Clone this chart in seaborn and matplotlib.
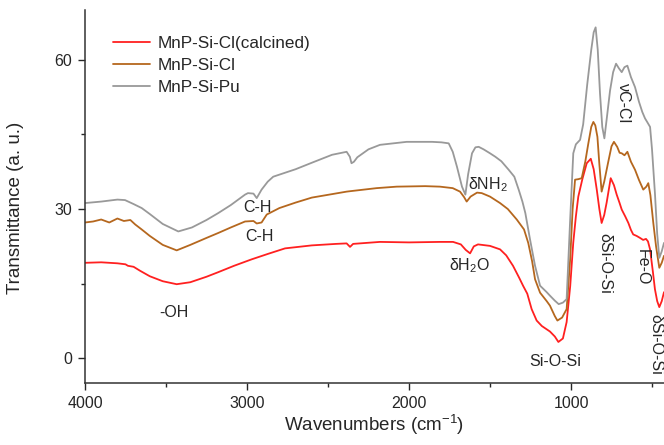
import matplotlib
matplotlib.use("Agg")
import matplotlib.pyplot as plt
from matplotlib.ticker import MultipleLocator, FixedLocator
import seaborn as sns
import pandas as pd

# ------------------------- Data -------------------------
wn_calcined = [4000, 3900, 3800, 3750, 3735, 3700, 3660, 3600, 3520, 3434, 3350, 3250, 3179, 3080,
               2971, 2870, 2765, 2600, 2450, 2385, 2364, 2345, 2179, 2000, 1809, 1728, 1680, 1650,
               1623, 1600, 1574, 1500, 1438, 1400, 1358, 1320, 1296, 1270, 1243, 1212, 1180, 1130,
               1100, 1078, 1050, 1027, 1005, 986, 970, 955, 930, 903, 878, 860, 841, 825, 811, 795,
               780, 755, 735, 718, 700, 687, 665, 646, 630, 616, 595, 574, 555, 537, 525, 512, 495,
               482, 468, 455, 440, 426]
tr_calcined = [19.2, 19.3, 19.1, 18.9, 18.6, 18.4, 17.6, 16.5, 15.5, 14.9, 15.3, 16.4, 17.3, 18.6,
               19.9, 21.0, 22.1, 22.7, 23.0, 23.1, 22.4, 23.0, 23.4, 23.3, 23.4, 23.4, 22.9, 21.8,
               21.1, 22.5, 22.9, 22.6, 21.9, 20.7, 18.6, 16.2, 14.6, 13.0, 9.9, 7.6, 6.5, 5.4,
               4.4, 3.3, 4.0, 7.3, 14.5, 23.3, 28.5, 32.5, 36.0, 39.2, 40.1, 38.0, 33.9, 30.0, 27.2, 28.8,
               31.3, 36.2, 34.8, 32.9, 31.2, 29.9, 28.5, 27.2, 25.8, 24.9, 24.6, 24.2, 23.8, 24.0, 23.5, 21.9, 17.5,
               13.9, 11.5, 10.3, 11.5, 13.3]

wn_cl = [4000, 3950, 3900, 3850, 3800, 3760, 3720, 3690, 3650, 3600, 3520, 3434, 3350, 3250, 3177,
         3100, 3012, 2960, 2940, 2910, 2878, 2800, 2700, 2600, 2385, 2360, 2200, 2076, 1900, 1809,
         1730, 1685, 1660, 1644, 1620, 1580, 1551, 1500, 1438, 1390, 1335, 1290, 1264, 1240, 1222,
         1191, 1150, 1130, 1100, 1084, 1055, 1027, 1005, 990, 975, 955, 934, 912, 893, 875, 862,
         850, 837, 825, 811, 795, 770, 750, 735, 715, 700, 687, 670, 652, 630, 605, 580, 554, 535,
         523, 510, 492, 475, 455, 440, 426]
tr_cl = [27.3, 27.5, 27.9, 27.3, 28.1, 27.6, 27.8, 26.9, 25.9, 24.6, 22.8, 21.7, 22.8, 24.2, 25.2,
         26.3, 27.5, 27.6, 27.1, 27.3, 28.9, 30.2, 31.3, 32.3, 33.5, 33.6, 34.2, 34.5, 34.6, 34.5,
         34.2, 33.5, 32.4, 31.5, 32.5, 33.3, 33.2, 32.5, 31.2, 30.0, 27.9, 25.9, 23.2, 19.5, 15.9,
         13.2, 11.5, 10.6, 8.5, 7.6, 8.2, 9.9, 20.0, 30.0, 35.9, 36.0, 36.2, 39.5, 43.2, 46.5, 47.5,
         46.8, 44.5, 39.0, 33.5, 35.5, 39.5, 42.6, 43.5, 42.5, 41.3, 41.2, 40.8, 41.5, 39.5, 37.9, 35.8, 33.9, 34.5,
         35.2, 32.8, 27.2, 22.5, 18.2, 19.2, 20.6]

wn_pu = [4000, 3900, 3800, 3753, 3700, 3650, 3600, 3520, 3424, 3340, 3250, 3177, 3100, 3012, 2994,
         2960, 2940, 2910, 2872, 2838, 2700, 2600, 2475, 2385, 2365, 2355, 2340, 2319, 2250, 2179,
         2014, 1858, 1800, 1755, 1730, 1704, 1673, 1652, 1635, 1611, 1590, 1570, 1540, 1500, 1467,
         1430, 1385, 1350, 1323, 1300, 1282, 1253, 1222, 1191, 1150, 1130, 1100, 1076, 1050, 1027,
         1005, 986, 970, 944, 925, 900, 875, 860, 848, 835, 821, 807, 794, 780, 759, 740, 722, 705,
         687, 670, 652, 630, 605, 580, 560, 543, 530, 512, 500, 482, 468, 455, 440, 426]
tr_pu = [31.2, 31.5, 31.9, 31.8, 31.0, 30.2, 29.0, 27.0, 25.5, 26.3, 27.8, 29.2, 30.8, 32.9, 33.2,
         33.1, 32.2, 33.9, 35.5, 36.5, 38.0, 39.3, 40.9, 41.5, 40.5, 39.2, 39.5, 40.4, 42.0, 42.9,
         43.5, 43.5, 43.4, 43.2, 41.5, 38.5, 34.5, 32.9, 37.0, 41.2, 42.4, 42.5, 42.0, 41.2, 40.5,
         39.6, 37.9, 36.5, 33.9, 31.5, 29.2, 23.9, 18.6, 14.6, 13.3, 12.6, 11.6, 10.9, 11.2, 11.9,
         28.0, 41.2, 43.0, 43.9, 47.0, 55.0, 62.0, 65.5, 66.5, 62.0, 53.2, 46.5, 44.2, 48.0, 53.8, 57.5, 59.2, 58.3,
         57.5, 58.5, 58.8, 56.5, 54.5, 51.5, 49.5, 48.2, 47.5, 46.5, 42.0, 33.2, 25.0, 20.2, 21.5, 23.2]

series_names = ["MnP-Si-Cl(calcined)", "MnP-Si-Cl", "MnP-Si-Pu"]
series_colors = ["#ff2020", "#b5671e", "#999999"]

# band labels: text, wavenumber, transmittance, rotation
band_labels = [
    ("C-H", 2935, 30.3, 0),
    ("C-H", 2926, 24.4, 0),
    ("-OH", 3451, 9.3, 0),
    (r"δH$_2$O", 1627, 18.6, 0),
    (r"δNH$_2$", 1512, 35.0, 0),
    ("Si-O-Si", 1099, -0.7, 0),
    ("δSi-O-Si", 790, 19.1, 270),
    ("Fe-O", 562, 18.3, 270),
    ("δSi-O-Si", 478, 2.8, 270),
    ("νC-Cl", 676, 51.3, 270),
]

# ------------------------- Plot -------------------------
sns.set_style("ticks")
plt.rcParams["font.family"] = ["Liberation Sans", "DejaVu Sans"]
plt.rcParams["mathtext.default"] = "regular"

fig = plt.figure(figsize=(6.64, 4.45), dpi=100)
ax = fig.add_axes([0.128, 0.1387, 0.872, 0.839])

spectra = [(wn_calcined, tr_calcined), (wn_cl, tr_cl), (wn_pu, tr_pu)]
for (wn, tr), name, color in zip(spectra, series_names, series_colors):
    df = pd.DataFrame({"wn": wn, "tr": tr})
    sns.lineplot(data=df, x="wn", y="tr", sort=False, color=color, lw=1.3,
                 label=name, ax=ax, errorbar=None)

for text, wn, tr, rot in band_labels:
    ax.text(wn, tr, text, fontsize=11.5, ha="center", va="center", rotation=rot)

ax.set_xlim(4000, 426)
ax.set_ylim(-5, 70)
ax.xaxis.set_major_locator(FixedLocator([4000, 3000, 2000, 1000]))
ax.xaxis.set_minor_locator(FixedLocator([3500, 2500, 1500, 500]))
ax.yaxis.set_major_locator(MultipleLocator(30))
ax.yaxis.set_minor_locator(MultipleLocator(15))
ax.tick_params(which="major", direction="out", length=5, width=1, labelsize=11.5, pad=4)
ax.tick_params(which="minor", direction="out", length=3, width=1)

ax.set_xlabel("Wavenumbers (cm$^{-1}$)", fontsize=13.5)
ax.set_ylabel("Transmittance (a. u.)", fontsize=13.5)
ax.yaxis.set_label_coords(-0.105, 0.47)
ax.xaxis.set_label_coords(0.5, -0.078)

sns.despine(ax=ax)
for side in ["left", "bottom"]:
    ax.spines[side].set_linewidth(1.1)
    ax.spines[side].set_color("#333333")

ax.legend(loc="upper left", bbox_to_anchor=(0.048, 0.93), frameon=False, fontsize=12.3,
          handlelength=2.2, handletextpad=0.4, labelspacing=0.42, borderpad=0, borderaxespad=0)

fig.savefig("out.png", dpi=100)
